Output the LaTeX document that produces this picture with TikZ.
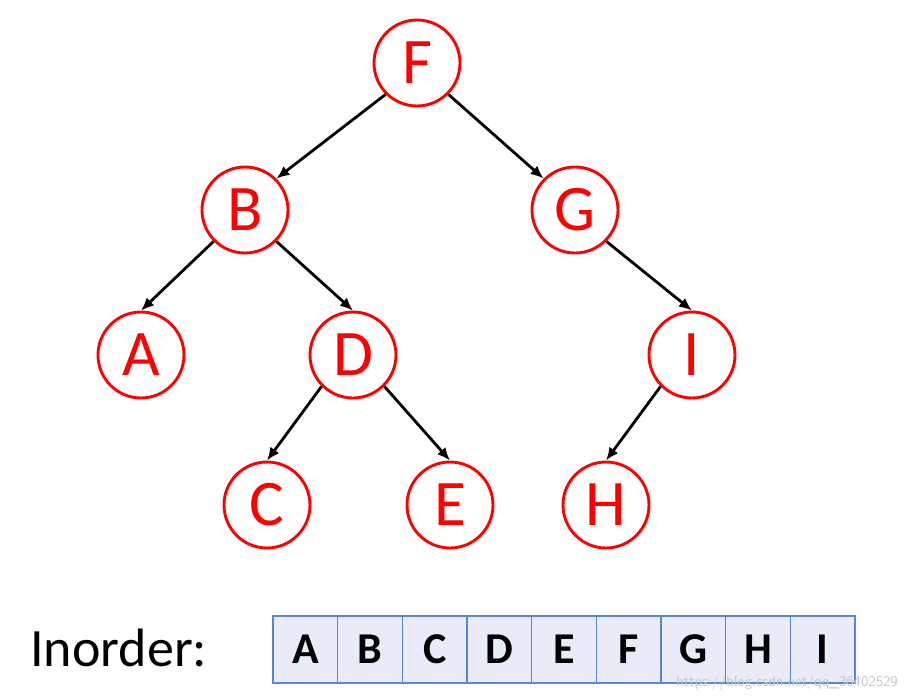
\documentclass[tikz,border=0pt]{standalone}
\usepackage{fontspec}
\setmainfont{Carlito}
\usetikzlibrary{arrows.meta}
\definecolor{nodered}{RGB}{255,0,0}
\definecolor{cellblue}{RGB}{90,135,210}
\definecolor{cellfill}{RGB}{233,236,246}
\begin{document}
\begin{tikzpicture}[x=1pt, y=-1pt, >={Latex[length=13pt,width=11pt]},
  vertex/.style={circle, draw=nodered, fill=white, line width=2.9pt, minimum size=86pt,
    inner sep=0pt, text=nodered, font=\fontsize{65}{65}\selectfont},
  edge/.style={->, line width=2.8pt},
  cell/.style={draw=cellblue, fill=cellfill, line width=1.3pt, minimum width=64.7pt,
    minimum height=67pt, inner sep=0pt, font=\fontsize{44}{44}\selectfont\bfseries}]
  \useasboundingbox (0,0) rectangle (908,699);
  % tree
  \node[vertex] (F) at (417,63) {F};
  \node[vertex] (B) at (245,210) {B};
  \node[vertex] (G) at (575,210) {G};
  \node[vertex] (A) at (141,355) {A};
  \node[vertex] (D) at (353,355) {D};
  \node[vertex] (I) at (692,355) {I};
  \node[vertex] (C) at (267,505) {C};
  \node[vertex] (E) at (450,505) {E};
  \node[vertex] (H) at (606,505) {H};
  \draw[edge] (F.south west) -- (B.north east);
  \draw[edge] (F.south east) -- (G.north west);
  \draw[edge] (B.south west) -- (A.north);
  \draw[edge] (B.south east) -- (D.north);
  \draw[edge] (G.south east) -- (I.north);
  \draw[edge] (D.south west) -- (C.north);
  \draw[edge] (D.south east) -- (E.north);
  \draw[edge] (I.south west) -- (H.north);
  % inorder sequence
  \node[anchor=base west, inner sep=0pt, font=\fontsize{54}{54}\selectfont] (label) at (30,666) {Inorder:};
  \foreach \l [count=\i] in {A,B,C,D,E,F,G,H,I}
    \node[cell] (c\i) at (273+64.67*\i-32.33, 649.5) {\l};
  \node[anchor=base east, inner sep=0pt, text=gray!45, font=\fontsize{15}{15}\selectfont\sffamily] (mark) at (898,686) {https://blog.csdn.net/qq\_36402529};
\end{tikzpicture}
\end{document}
